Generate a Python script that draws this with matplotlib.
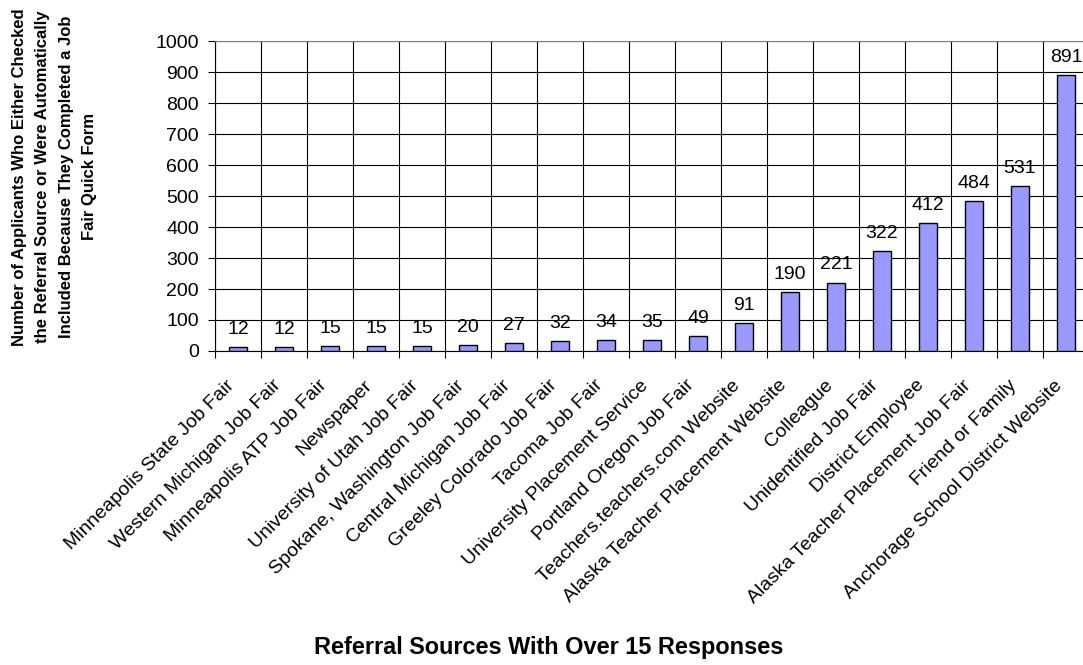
import matplotlib
matplotlib.use("Agg")
import matplotlib.pyplot as plt
import matplotlib.transforms as mtransforms
import numpy as np

plt.rcParams['font.family'] = ['Liberation Sans', 'DejaVu Sans']

sources = [
    "Minneapolis State Job Fair", "Western Michigan Job Fair", "Minneapolis ATP Job Fair",
    "Newspaper", "University of Utah Job Fair", "Spokane, Washington Job Fair",
    "Central Michigan Job Fair", "Greeley Colorado Job Fair", "Tacoma Job Fair",
    "University Placement Service", "Portland Oregon Job Fair", "Teachers.teachers.com Website",
    "Alaska Teacher Placement Website", "Colleague", "Unidentified Job Fair",
    "District Employee", "Alaska Teacher Placement Job Fair", "Friend or Family",
    "Anchorage School District Website",
]
counts = [12, 12, 15, 15, 15, 20, 27, 32, 34, 35, 49, 91, 190, 221, 322, 412, 484, 531, 891]
y_ticks = list(range(0, 1001, 100))

fig = plt.figure(figsize=(10.83, 6.65), dpi=100)
ax = fig.add_axes([0.1985, 0.4722, 0.807, 0.466])

x = np.arange(len(sources))
ax.bar(x, counts, width=0.41, color="#9999FF", edgecolor="black", linewidth=1.0, zorder=3)

for xi, v in zip(x, counts):
    ax.annotate(str(v), (xi, v), xytext=(0, 6.5), textcoords="offset points",
                ha="center", va="bottom", fontsize=14, zorder=4)

ax.set_xlim(-0.5, len(sources) - 0.5)
ax.set_ylim(0, 1000)
ax.set_yticks(y_ticks)
ax.set_yticklabels([str(t) for t in y_ticks], fontsize=14)

# category labels at bar centres, tick marks at category boundaries
ax.set_xticks(x)
ax.set_xticklabels(sources, rotation=45, ha="right", rotation_mode="anchor", fontsize=14)
ax.tick_params(axis="x", which="major", length=0, pad=15)
shift = mtransforms.ScaledTranslation(-0.12, -0.05, fig.dpi_scale_trans)
for lab in ax.get_xticklabels():
    lab.set_transform(lab.get_transform() + shift)
ax.set_xticks(np.arange(len(sources) + 1) - 0.5, minor=True)
ax.tick_params(axis="x", which="minor", length=5, width=0.8)
ax.tick_params(axis="y", length=5, width=0.8, pad=6.5)

ax.grid(True, axis="y", which="major", color="black", linewidth=0.8, zorder=1)
ax.grid(True, axis="x", which="minor", color="black", linewidth=0.8, zorder=1)
ax.grid(False, axis="x", which="major")

for side in ["top", "right"]:
    ax.spines[side].set_color("#808080")
for side in ["left", "bottom"]:
    ax.spines[side].set_color("black")
    ax.spines[side].set_linewidth(0.8)

fig.text(0.0503, 0.734,
         "Number of Applicants Who Either Checked\n"
         "the Referral Source or Were Automatically\n"
         "Included Because They Completed a Job\n"
         "Fair Quick Form",
         rotation=90, ha="center", va="center", fontsize=12, fontweight="bold",
         multialignment="center", linespacing=1.7)

fig.text(0.507, 0.026, "Referral Sources With Over 15 Responses",
         ha="center", va="center", fontsize=16.9, fontweight="bold")

fig.savefig("out.png", dpi=100)
